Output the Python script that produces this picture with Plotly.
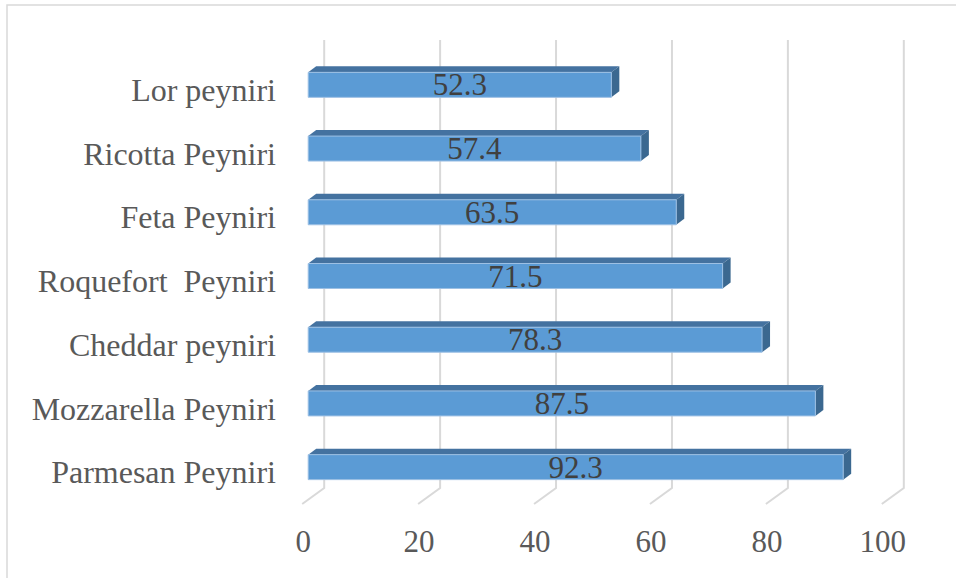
import plotly.graph_objects as go

# Cheese types (bottom to top) and their values
categories = [
    "Parmesan Peyniri",
    "Mozzarella Peyniri",
    "Cheddar peyniri",
    "Roquefort  Peyniri",
    "Feta Peyniri",
    "Ricotta Peyniri",
    "Lor peyniri",
]
values = [92.3, 87.5, 78.3, 71.5, 63.5, 57.4, 52.3]
tick_values = [0, 20, 40, 60, 80, 100]
tick_labels = ["0", "20", "40", "60", "80", "100"]

# Figure geometry
W, H = 956, 578
M_L, M_R, M_T, M_B = 285, 45, 53, 79
X_RANGE = [-4, 104]
PX_PER_UNIT = (W - M_L - M_R) / (X_RANGE[1] - X_RANGE[0])

BAR_WIDTH = 0.392          # in category units
HALF_BAR_PX = 12.5         # half height of a bar's front face in pixels
DEPTH_DX, DEPTH_DY = 8, 6  # 3D bar depth in pixels

FRONT = "#5b9bd5"
TOP = "#4472a0"
SIDE = "#3b6890"
GRID = "#d9d9d9"
FONT = "Liberation Serif, Times New Roman, DejaVu Serif, serif"

positions = list(range(len(categories)))

fig = go.Figure()
fig.add_trace(
    go.Bar(
        x=values,
        y=positions,
        orientation="h",
        width=BAR_WIDTH,
        marker=dict(color=FRONT, line=dict(color="#9dc0e4", width=1)),
        text=[f"{v:.1f}" for v in values],
        textposition="inside",
        insidetextanchor="middle",
        constraintext="none",
        textangle=0,
        textfont=dict(family=FONT, size=31, color="#404040"),
        hoverinfo="skip",
    )
)

shapes = []

# Outer chart frame
shapes.append(dict(
    type="rect", xref="paper", yref="paper",
    xsizemode="pixel", ysizemode="pixel", xanchor=0, yanchor=0,
    x0=7 - M_L, x1=W, y0=(H - M_B) - 5, y1=-200,
    line=dict(color=GRID, width=1.5), fillcolor="rgba(0,0,0,0)", layer="below",
))

# Gridlines on the back wall with floor diagonals toward the front
back_top = (H - M_B) - 40
back_bottom = (H - M_B) - 488
floor_front = (H - M_B) - 504
for t in tick_values:
    shapes.append(dict(
        type="path", xref="x", yref="paper",
        xsizemode="pixel", ysizemode="pixel", xanchor=t, yanchor=0,
        path=f"M 16,{back_top} L 16,{back_bottom} L -6,{floor_front}",
        line=dict(color=GRID, width=2), layer="below",
    ))

# Top and side faces of each 3D bar
d_units = DEPTH_DX / PX_PER_UNIT
for pos, v in zip(positions, values):
    shapes.append(dict(
        type="path", xref="x", yref="y",
        ysizemode="pixel", yanchor=pos,
        path=(f"M 0,{HALF_BAR_PX} L {v},{HALF_BAR_PX} "
              f"L {v + d_units},{HALF_BAR_PX + DEPTH_DY} "
              f"L {d_units},{HALF_BAR_PX + DEPTH_DY} Z"),
        fillcolor=TOP, line=dict(width=0), layer="below",
    ))
    shapes.append(dict(
        type="path", xref="x", yref="y",
        xsizemode="pixel", ysizemode="pixel", xanchor=v, yanchor=pos,
        path=(f"M 0,{HALF_BAR_PX} L {DEPTH_DX},{HALF_BAR_PX + DEPTH_DY} "
              f"L {DEPTH_DX},{-HALF_BAR_PX + DEPTH_DY} L 0,{-HALF_BAR_PX} Z"),
        fillcolor=SIDE, line=dict(width=0), layer="below",
    ))

fig.update_layout(
    width=W, height=H,
    margin=dict(l=M_L, r=M_R, t=M_T, b=M_B),
    paper_bgcolor="white", plot_bgcolor="white",
    showlegend=False, hovermode=False,
    shapes=shapes,
    xaxis=dict(
        range=X_RANGE, tickvals=tick_values, ticktext=tick_labels,
        showgrid=False, zeroline=False, showline=False, ticks="",
        tickfont=dict(family=FONT, size=31, color="#595959"),
        ticklabelstandoff=21, ticklabelshift=-5, fixedrange=True,
    ),
    yaxis=dict(
        range=[-0.5, len(categories) - 0.5], tickvals=positions, ticktext=categories,
        showgrid=False, zeroline=False, showline=False, ticks="",
        tickfont=dict(family=FONT, size=32, color="#595959"),
        ticklabelstandoff=8, ticklabelshift=5, fixedrange=True,
    ),
)

fig.write_html("out.html")
